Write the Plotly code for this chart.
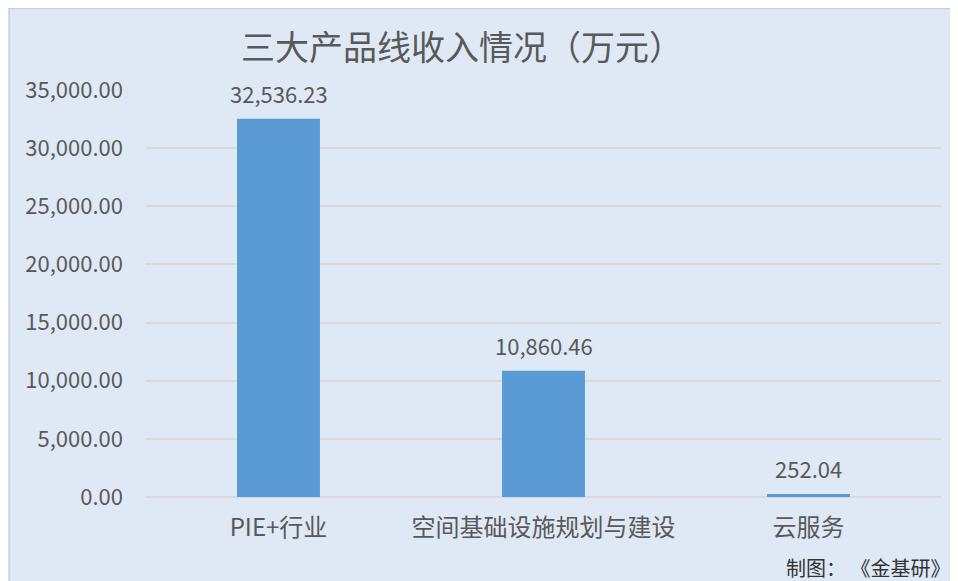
import plotly.graph_objects as go

categories = ["PIE+行业", "空间基础设施规划与建设", "云服务"]
revenue = [32536.23, 10860.46, 252.04]
tick_vals = [0, 5000, 10000, 15000, 20000, 25000, 30000, 35000]
tick_text = ["0.00", "5,000.00", "10,000.00", "15,000.00", "20,000.00", "25,000.00", "30,000.00", "35,000.00"]

# The page body has an 8px margin, so the figure is drawn 8px in from the window edge.
OFF = 8
W, H = 958 - OFF, 581 - OFF
L, R, T, B = 145.5 - OFF, 16.5, 90 - OFF, 84
pw, ph = W - L - R, H - T - B

FONT = "Noto Sans CJK SC"
TXT = "#595959"
BG = "#dee9f5"
GRID = "#d7d9dc"


def px_x(p):
    return (p - OFF - L) / pw


def px_y(p):
    return (H - B - (p - OFF)) / ph


fig = go.Figure()
fig.add_trace(go.Bar(
    x=categories, y=revenue,
    marker=dict(color="#5b9bd5", line=dict(width=0)),
    width=0.313,
    hoverinfo="x+y",
))

annotations = [
    dict(x=c, y=v, xref="x", yref="y", text=f"{v:,.2f}", showarrow=False,
         yanchor="middle", yshift=26,
         font=dict(family=FONT, size=22, color=TXT))
    for c, v in zip(categories, revenue)
]
annotations.append(
    dict(text="制图： 《金基研》", xref="paper", yref="paper",
         x=px_x(953), y=px_y(567), xanchor="right", yanchor="middle",
         showarrow=False, font=dict(family=FONT, size=20, color="#333333"))
)

fig.update_layout(
    width=W, height=H,
    margin=dict(l=L, r=R, t=T, b=B),
    paper_bgcolor=BG, plot_bgcolor=BG,
    showlegend=False,
    title=dict(text="三大产品线收入情况（万元）", xref="paper", x=px_x(462), xanchor="center",
               yref="container", y=1 - (48 - OFF) / H, yanchor="middle",
               font=dict(family=FONT, size=34, color=TXT)),
    xaxis=dict(showgrid=False, showline=False, ticks="", ticklabelstandoff=14,
               tickfont=dict(family=FONT, size=24, color=TXT)),
    yaxis=dict(range=[0, 35000], tickvals=tick_vals, ticktext=tick_text,
               showgrid=True, gridcolor=GRID, gridwidth=2,
               zeroline=True, zerolinecolor=GRID, zerolinewidth=2,
               showline=False, ticks="", ticklabelstandoff=22,
               tickfont=dict(family=FONT, size=22, color=TXT)),
    font=dict(family=FONT, color=TXT),
    shapes=[
        dict(type="line", xref="paper", yref="paper",
             x0=px_x(OFF + 0.5), x1=px_x(OFF + 0.5), y0=px_y(581), y1=px_y(OFF),
             line=dict(width=1.5, color="#cfd2d5")),
        dict(type="line", xref="paper", yref="paper",
             x0=px_x(OFF), x1=px_x(958), y0=px_y(OFF + 0.5), y1=px_y(OFF + 0.5),
             line=dict(width=1.5, color="#cfd2d5")),
    ],
    annotations=annotations,
)

fig.write_html("out.html")
